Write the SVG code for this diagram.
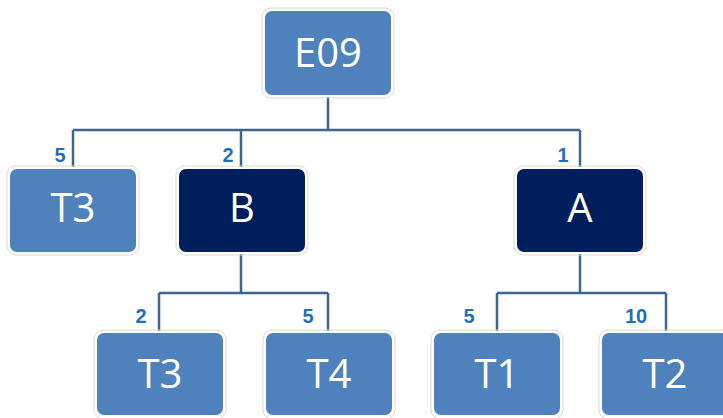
<svg xmlns="http://www.w3.org/2000/svg" width="723" height="418" viewBox="0 0 723 418">
<style>
.n rect{stroke:#ffffff;stroke-width:2}
.n .o{fill:none;stroke:#d9d9d9;stroke-width:1}
.m{fill:#4f81bd}
.d{fill:#021e5c}
.t{font-family:"Open Sans","Liberation Sans",sans-serif;font-size:40px;fill:#ffffff;text-anchor:middle}
.c path{fill:none;stroke:#3d6594;stroke-width:2.5}
.l{font-family:"Liberation Sans",Arial,sans-serif;font-size:20px;font-weight:bold;fill:#1f6fbf;text-anchor:middle}
</style>
<rect width="723" height="418" fill="#ffffff"/>
<g class="c" id="connectors">
<path d="M328 96V130M73 130H580M73 130V168M241 130V168M580 130V168"/>
<path d="M241 253V293M159 293H328M159 293V332M328 293V332"/>
<path d="M580 253V293M497 293H666M497 293V332M666 293V332"/>
</g>
<g class="labels">
<text class="l" x="60" y="162">5</text>
<text class="l" x="228" y="162">2</text>
<text class="l" x="563" y="162">1</text>
<text class="l" x="141" y="323">2</text>
<text class="l" x="308" y="323">5</text>
<text class="l" x="469" y="323">5</text>
<text class="l" x="636" y="323">10</text>
</g>
<g class="n" id="E09"><rect class="o" x="262" y="8" width="132" height="90" rx="9"/><rect class="m" x="264" y="10" width="128" height="86" rx="8"/><text class="t" x="328" y="67" font-size="43">E09</text></g>
<g class="n" id="T3a"><rect class="o" x="7" y="166" width="132" height="89" rx="9"/><rect class="m" x="9" y="168" width="128" height="85" rx="8"/><text class="t" x="73" y="222">T3</text></g>
<g class="n" id="B"><rect class="o" x="176" y="166" width="132" height="89" rx="9"/><rect class="d" x="178" y="168" width="128" height="85" rx="8"/><text class="t" x="242" y="222">B</text></g>
<g class="n" id="A"><rect class="o" x="514" y="166" width="132" height="89" rx="9"/><rect class="d" x="516" y="168" width="128" height="85" rx="8"/><text class="t" x="580" y="222">A</text></g>
<g class="n" id="T3b"><rect class="o" x="94" y="330" width="132" height="89" rx="9"/><rect class="m" x="96" y="332" width="128" height="84" rx="8"/><text class="t" x="160" y="388">T3</text></g>
<g class="n" id="T4"><rect class="o" x="263" y="330" width="132" height="89" rx="9"/><rect class="m" x="265" y="332" width="128" height="84" rx="8"/><text class="t" x="329" y="388">T4</text></g>
<g class="n" id="T1"><rect class="o" x="431" y="330" width="132" height="89" rx="9"/><rect class="m" x="433" y="332" width="128" height="84" rx="8"/><text class="t" x="497" y="388">T1</text></g>
<g class="n" id="T2"><rect class="o" x="599" y="330" width="132" height="89" rx="9"/><rect class="m" x="601" y="332" width="128" height="84" rx="8"/><text class="t" x="665" y="388">T2</text></g>
</svg>
